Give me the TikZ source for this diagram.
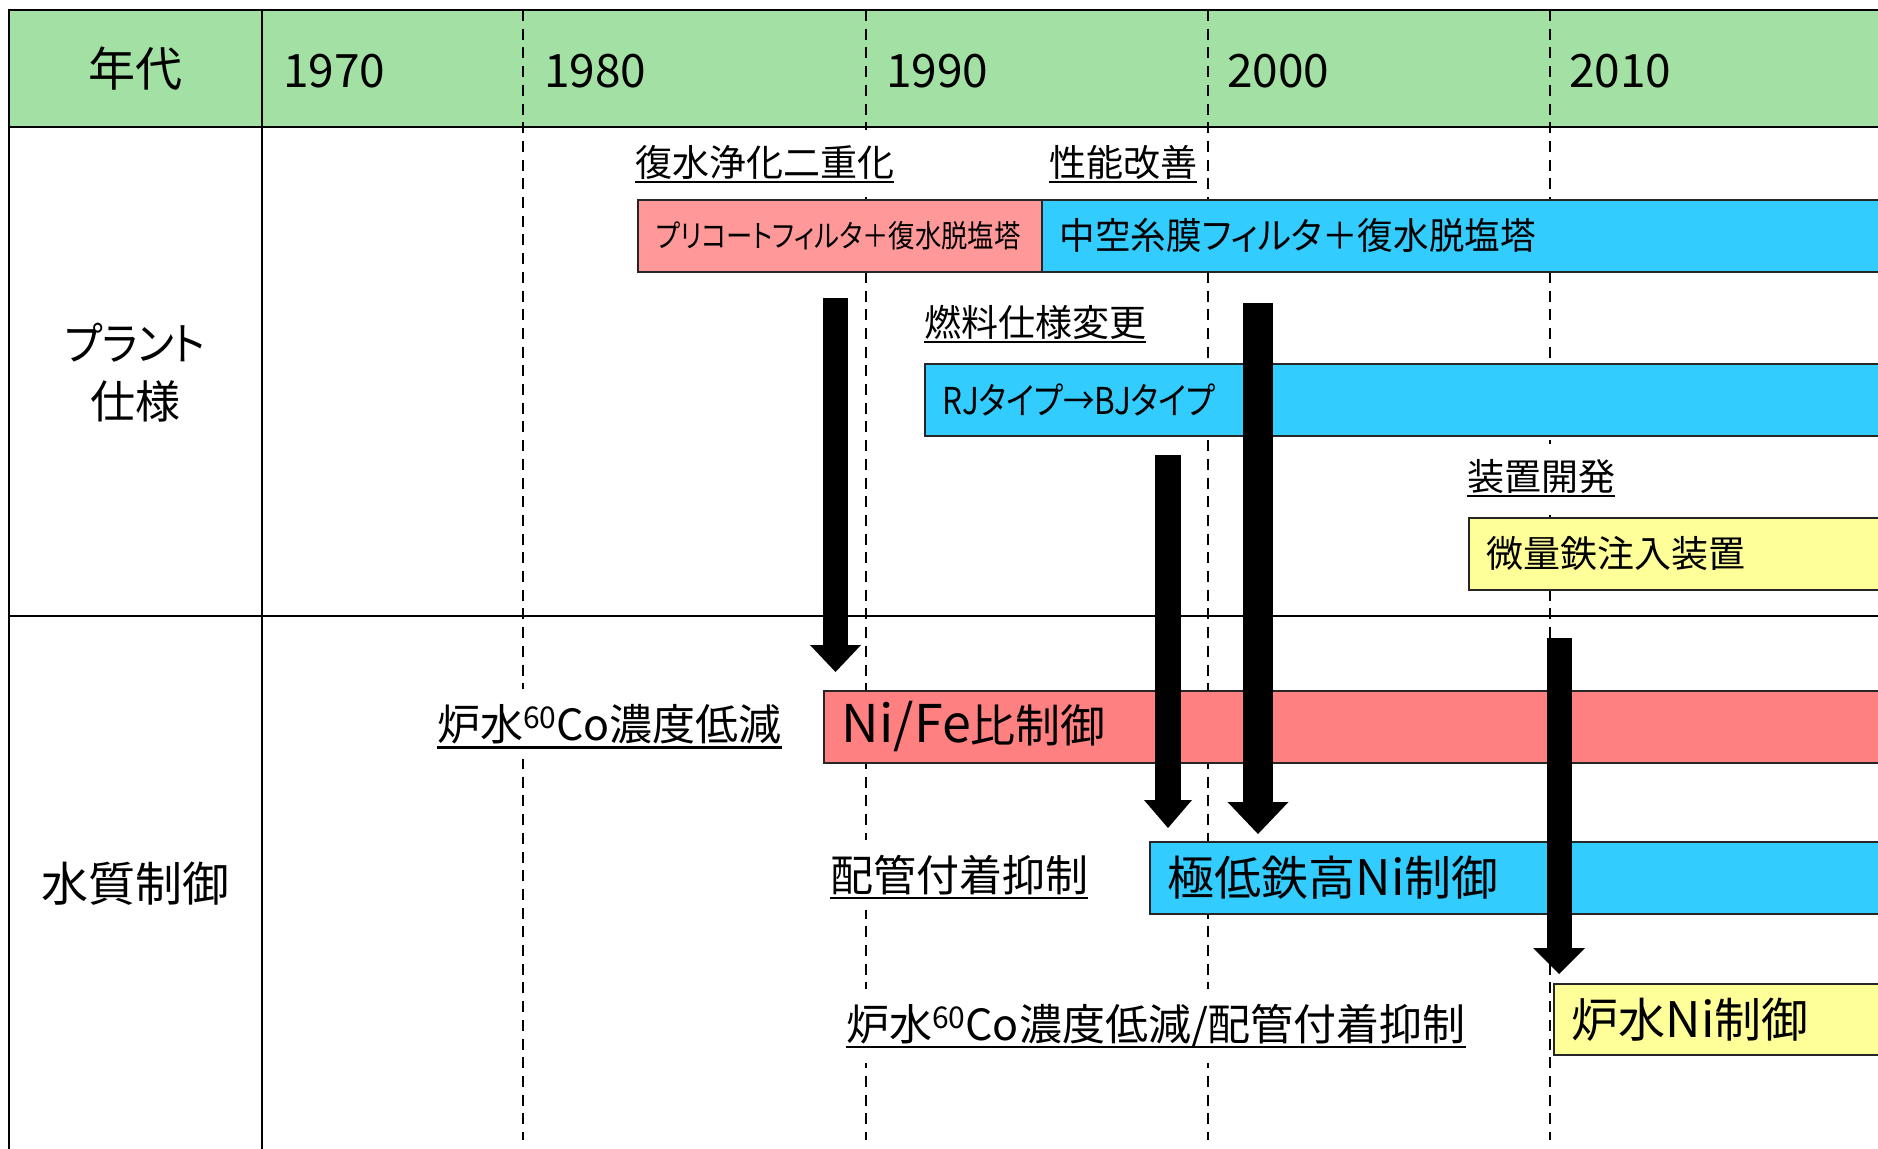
\documentclass[tikz,border=0pt]{standalone}
\usepackage{fontspec}
\setmainfont{Noto Sans CJK JP}[RawFeature=+palt]
\newfontfamily\jpnarrow{Noto Sans CJK JP}[RawFeature=+palt, FakeStretch=0.85]
\newfontfamily\jpslim{Noto Sans CJK JP}[RawFeature=+palt, FakeStretch=0.96]
\newfontfamily\jpmid{Noto Sans CJK JP}[RawFeature=+palt, FakeStretch=0.91]
\usetikzlibrary{arrows.meta}
\definecolor{hdrgreen}{RGB}{163,224,163}
\definecolor{pinkA}{RGB}{255,153,153}
\definecolor{redE}{RGB}{255,128,128}
\definecolor{cyanB}{RGB}{51,204,255}
\definecolor{yellowD}{RGB}{255,255,153}
\newcommand\fsz[1]{\fontsize{#1pt}{#1pt}\selectfont}
\newcommand\boxtxt[2]{\makebox[#1pt][l]{#2}}
\newcommand\supsixty{\raisebox{12pt}{\fsz{30}60}}
\begin{document}
\begin{tikzpicture}[x=1pt,y=-1pt,
  grid/.style={line width=2.6pt, black},
  dline/.style={line width=2.7pt, black, dash pattern=on 11pt off 7.7pt},
  txt/.style={inner sep=0pt},
  lbl/.style={fill=white, inner xsep=0pt, inner ysep=15pt, anchor=base west},
  uline/.style={line width=2.3pt},
  box/.style={draw=black!85, line width=1.5pt, inner xsep=18pt, inner ysep=0pt, minimum height=72pt, anchor=north west},
  barrow/.style n args={3}{line width=#1pt, -{Triangle[width=#2pt,length=#3pt,line width=0pt]}},
]
\useasboundingbox (0,0) rectangle (1878,1148);
% header band
\fill[hdrgreen] (9,10) rectangle (1890,127);
% decade dashed lines
\foreach \x in {523,866,1208,1550} \draw[dline] (\x,10) -- (\x,1140);
% boxes
\node[box, fill=pinkA, font=\jpnarrow\fsz{31}] (bA) at (637,199) {\boxtxt{368}{プリコートフィルタ＋復水脱塩塔}};
\node[box, fill=cyanB, font=\jpslim\fsz{37}] (bB) at (1041,199) {\boxtxt{823}{中空糸膜フィルタ＋復水脱塩塔}};
\node[box, fill=cyanB, font=\jpnarrow\fsz{37}] (bC) at (924,363) {\boxtxt{940}{RJタイプ→BJタイプ}};
\node[box, fill=yellowD, font=\fsz{37}] (bD) at (1468,517) {\boxtxt{396}{微量鉄注入装置}};
\node[box, fill=redE, font=\fsz{45}] (bE) at (823,690) {\boxtxt{1041}{{\fsz{52}Ni/Fe}比制御}};
\node[box, fill=cyanB, font=\fsz{47}] (bF) at (1149,841) {\boxtxt{715}{極低鉄高{\fsz{49}Ni}制御}};
\node[box, fill=yellowD, font=\fsz{47}, minimum height=71pt] (bG) at (1553,983) {\boxtxt{311}{炉水{\fsz{49}Ni}制御}};
% underlined labels
\node[lbl, font=\fsz{37}] (l1) at (635,176) {復水浄化二重化};
\node[lbl, font=\fsz{37}] (l2) at (1049,176) {性能改善};
\node[lbl, font=\fsz{37}] (l3) at (924,336) {燃料仕様変更};
\node[lbl, font=\fsz{37}] (l4) at (1467,490) {装置開発};
\node[lbl, font=\fsz{43}] (l5) at (437,740) {炉水\supsixty Co濃度低減};
\node[lbl, font=\fsz{43}] (l6) at (830,891) {配管付着抑制};
\node[lbl, font=\fsz{43}] (l7) at (846,1040) {炉水\supsixty Co濃度低減/配管付着抑制};
\foreach \n/\d in {l1/6,l2/6,l3/6,l4/6,l5/7.5,l6/7,l7/7}
  \draw[uline] ([yshift=-\d pt]\n.base west) -- ([yshift=-\d pt]\n.base east);
% grid
\draw[grid] (1890,10) -- (9,10) -- (9,1160);
\draw[grid] (9,127) -- (1890,127);
\draw[grid] (262,10) -- (262,1160);
\draw[grid] (9,616) -- (1890,616);
% header texts
\node[txt, font=\fsz{47}] (hdr) at (135,69) {年代};
\node[txt, font=\fsz{46}, anchor=base west] (y70) at (283,87) {1970};
\node[txt, font=\fsz{46}, anchor=base west] (y80) at (544,87) {1980};
\node[txt, font=\fsz{46}, anchor=base west] (y90) at (886,87) {1990};
\node[txt, font=\fsz{46}, anchor=base west] (y00) at (1227,87) {2000};
\node[txt, font=\fsz{46}, anchor=base west] (y10) at (1569,87) {2010};
% row labels
\node[txt, font={\fontsize{45pt}{58pt}\selectfont}, align=center] (rplant) at (135,373) {{\jpmid プラント}\\仕様};
\node[txt, font=\fsz{47}] (rwater) at (135,884) {水質制御};
% block arrows
\coordinate (a1s) at (835.5,298); \coordinate (a1e) at (835.5,672);
\coordinate (a2s) at (1168,455);  \coordinate (a2e) at (1168,828);
\coordinate (a3s) at (1258,303);  \coordinate (a3e) at (1258,834);
\coordinate (a4s) at (1559,638);  \coordinate (a4e) at (1559,974);
\draw[barrow={25}{51}{27}] (a1s) -- (a1e);
\draw[barrow={26}{48}{28}] (a2s) -- (a2e);
\draw[barrow={30}{61}{32}] (a3s) -- (a3e);
\draw[barrow={25}{52}{26}] (a4s) -- (a4e);
\end{tikzpicture}
\end{document}
